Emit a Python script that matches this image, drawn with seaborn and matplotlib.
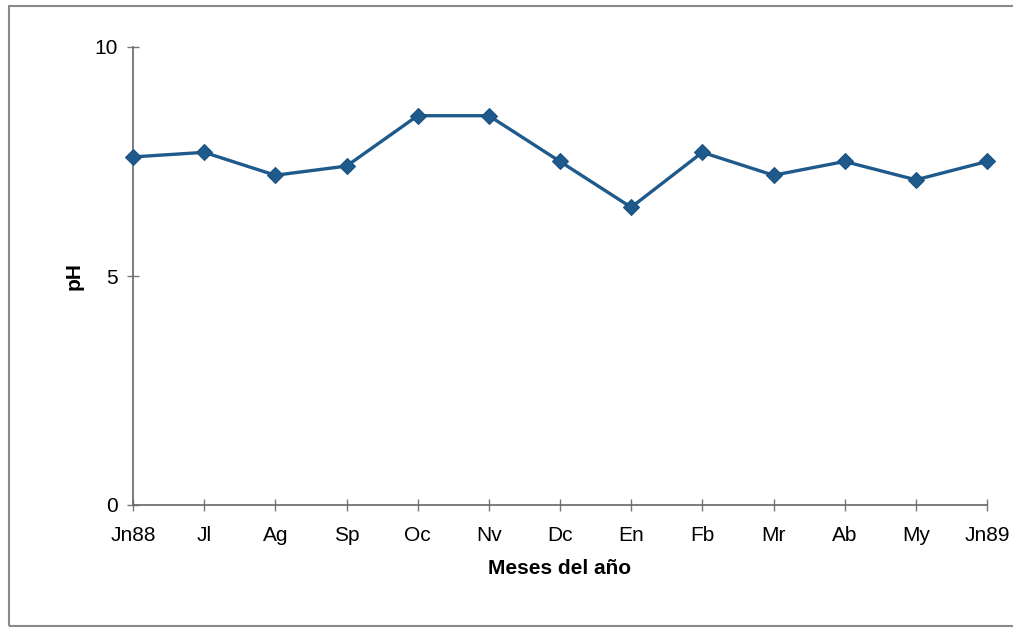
import matplotlib
matplotlib.use("Agg")
import matplotlib.pyplot as plt
import seaborn as sns
import pandas as pd
from matplotlib.patches import Rectangle

months = ["Jn88", "Jl", "Ag", "Sp", "Oc", "Nv", "Dc", "En", "Fb", "Mr", "Ab", "My", "Jn89"]
ph = [7.6, 7.7, 7.2, 7.4, 8.5, 8.5, 7.5, 6.5, 7.7, 7.2, 7.5, 7.1, 7.5]
yticks = [0, 5, 10]

sns.set_theme(style="white")
plt.rcParams['font.family'] = ['Liberation Sans', 'DejaVu Sans']
plt.rcParams['text.color'] = 'black'
plt.rcParams['axes.labelcolor'] = 'black'

df = pd.DataFrame({"mes": months, "pH": ph})

fig = plt.figure(figsize=(10.13, 6.32), dpi=100)
fig.patch.set_facecolor("white")
ax = fig.add_axes([133/1013, 1 - 505/632, (987-133)/1013, (505-47)/632])

sns.lineplot(data=df, x="mes", y="pH", ax=ax, color="#1f5a8c", linewidth=2.4,
             marker="D", markersize=8.5, markeredgecolor="#1a4f80", markerfacecolor="#1f5a8c",
             sort=False, clip_on=False, zorder=5)

ax.set_xlim(0, len(months) - 1)
ax.set_ylim(0, 10)
ax.set_yticks(yticks)
ax.set_yticklabels([str(v) for v in yticks])
ax.set_xticks(range(len(months)))
ax.set_xticklabels(months)

for s in ["top", "right"]:
    ax.spines[s].set_visible(False)
for s in ["left", "bottom"]:
    ax.spines[s].set_color("#666666")
    ax.spines[s].set_linewidth(1.2)

ax.tick_params(axis="both", direction="inout", length=8, width=1, color="#777777",
               labelsize=15, labelcolor="black", bottom=True, left=True)
ax.tick_params(axis="x", pad=11)
ax.tick_params(axis="y", pad=7)

ax.set_xlabel("Meses del año", fontsize=15, fontweight="bold", labelpad=10, color="black")
ax.set_ylabel("pH", fontsize=15, fontweight="bold", labelpad=8, color="black")
ax.grid(False)

fig.patches.append(Rectangle((9/1013, 1 - 626/632), 1.1, (626-6)/632,
                             transform=fig.transFigure, fill=False,
                             edgecolor="#8a8a8a", linewidth=1.5, clip_on=False))

fig.savefig("out.png", dpi=100, facecolor="white")
